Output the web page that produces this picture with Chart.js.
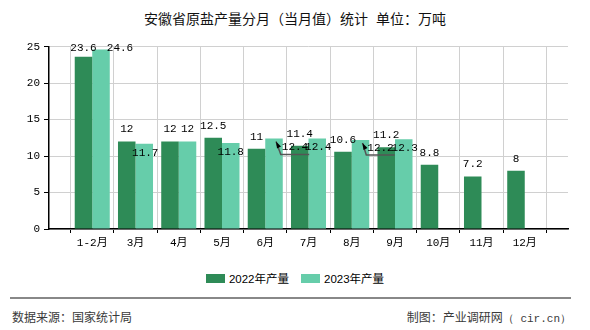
<!DOCTYPE html>
<html>
<head>
<meta charset="utf-8">
<script src="https://cdn.jsdelivr.net/npm/chart.js@4.4.1/dist/chart.umd.min.js"></script>
<style>
  body { margin: 0; width: 590px; height: 330px; background: #fff; position: relative; overflow: hidden;
         font-family: "Liberation Sans", "Noto Sans CJK SC", sans-serif; }
  #title { position: absolute; top: 8px; left: 0; width: 590px; text-align: center; font-size: 14px; color: #111; }
  #wrap { position: absolute; left: 0; top: 36px; width: 590px; height: 220px; }
  #legend { position: absolute; top: 270px; left: 0; width: 590px; text-align: center; font-size: 11.5px; color: #000; }
  .item { display: inline-block; margin: 0 6px; }
  .box { display: inline-block; width: 19px; height: 9px; margin-right: 4px; vertical-align: 0px; }
  #rule { position: absolute; left: 10px; width: 561px; top: 297px; height: 0; border-top: 2px solid #888; }
  .foot { position: absolute; top: 308px; font-size: 12px; color: #3a3a3a; }
  .mono { font-family: "Liberation Mono", monospace; font-size: 11px; }
</style>
</head>
<body>
<div id="title">安徽省原盐产量分月（当月值）统计&nbsp;&nbsp;单位：万吨</div>
<div id="wrap"><canvas id="myChart"></canvas></div>
<div id="legend"></div>
<div id="rule"></div>
<div class="foot" style="left:12px">数据来源：国家统计局</div>
<div class="foot" style="right:19px">制图：产业调研网<span class="mono">（ cir.cn）</span></div>

<script>
const months = ['1-2月', '3月', '4月', '5月', '6月', '7月', '8月', '9月', '10月', '11月', '12月'];
const values2022 = [23.6, 12, 12, 12.5, 11, 11.4, 10.6, 11.2, 8.8, 7.2, 8];
const values2023 = [24.6, 11.7, 12, 11.8, 12.4, 12.4, 12.2, 12.3, null, null, null];
const yTicks = [0, 5, 10, 15, 20, 25];

const seriesNames = ['2022年产量', '2023年产量'];
const seriesColors = ['#2e8b57', '#66cdaa'];

// label nudges [dx, dy] (the original chart moved overlapping labels around)
const nudge2022 = [[0, 3], [0, 0], [0, 0], [0, 0], [0, 0], [0, 0], [0, 0], [0, 0], [0, 0], [0, 0], [0, 0]];
const nudge2023 = [[19, 11], [1, 21], [0, 0], [0, 21], [21, 21], [1, 21], [20, 20], [1, 21], [0, 0], [0, 0], [0, 0]];
const leader2023 = [false, false, false, false, true, false, true, false, false, false, false];

// empty slots at both ends so the months sit on the grid lines
const labels = ['', ...months, ''];
const pad = arr => [null, ...arr, null];

const tickFont = { family: '"Liberation Mono", "Noto Sans CJK SC", monospace', size: 11 };

const valueLabels = {
  id: 'valueLabels',
  afterDatasetsDraw(chart) {
    const ctx = chart.ctx;
    const nudges = [nudge2022, nudge2023];
    ctx.save();
    ctx.font = '11px "Liberation Mono", monospace';
    ctx.fillStyle = '#000';
    ctx.textAlign = 'center';
    ctx.textBaseline = 'middle';
    chart.data.datasets.forEach((ds, di) => {
      const meta = chart.getDatasetMeta(di);
      meta.data.forEach((bar, i) => {
        const v = ds.data[i];
        if (v === null || v === undefined) return;
        const n = nudges[di][i - 1] || [0, 0];
        const x = bar.x + n[0];
        const y = bar.y - 12 + n[1];
        const text = String(v);
        ctx.fillText(text, x, y);
        if (di === 1 && leader2023[i - 1]) {
          const w = ctx.measureText(text).width;
          const tipX = bar.x + 2, tipY = bar.y + 3;
          ctx.strokeStyle = '#555';
          ctx.lineWidth = 1.5;
          ctx.beginPath();
          ctx.moveTo(tipX, tipY);
          ctx.lineTo(x - w / 2 - 1, y + 7);
          ctx.lineTo(x + w / 2 + 1, y + 7);
          ctx.stroke();
          ctx.fillStyle = '#000';
          ctx.beginPath();
          ctx.moveTo(tipX, tipY);
          ctx.lineTo(tipX + 5, tipY + 5);
          ctx.lineTo(tipX + 1, tipY + 7);
          ctx.closePath();
          ctx.fill();
        }
      });
    });
    ctx.restore();
  }
};

new Chart(document.getElementById('myChart'), {
  type: 'bar',
  data: {
    labels: labels,
    datasets: [
      { label: seriesNames[0], data: pad(values2022), backgroundColor: seriesColors[0] },
      { label: seriesNames[1], data: pad(values2023), backgroundColor: seriesColors[1] }
    ]
  },
  options: {
    responsive: true,
    maintainAspectRatio: false,
    animation: false,
    layout: { padding: { top: 10, right: 22, left: 0, bottom: 0 } },
    datasets: { bar: { categoryPercentage: 0.81, barPercentage: 1 } },
    plugins: {
      legend: { display: false },
      title: { display: false },
      tooltip: { enabled: false }
    },
    scales: {
      x: {
        offset: false,
        grid: { color: '#d0d0d0', tickColor: '#000', tickLength: 4 },
        border: { color: '#000', width: 1.5 },
        ticks: { color: '#000', font: tickFont, padding: 3, maxRotation: 0, autoSkip: false },
        afterFit(scale) { scale.height = 27; }
      },
      y: {
        min: 0,
        max: 25,
        afterBuildTicks(scale) { scale.ticks = yTicks.map(v => ({ value: v })); },
        grid: { color: '#d0d0d0', tickColor: '#000', tickLength: 5 },
        border: { color: '#000', width: 1.5 },
        ticks: { color: '#000', font: tickFont, padding: 4 },
        afterFit(scale) { scale.width = 49; }
      }
    }
  },
  plugins: [valueLabels]
});

document.getElementById('legend').innerHTML = seriesNames.map((name, i) =>
  '<span class="item"><span class="box" style="background:' + seriesColors[i] + '"></span>' + name + '</span>'
).join('');
</script>
</body>
</html>
